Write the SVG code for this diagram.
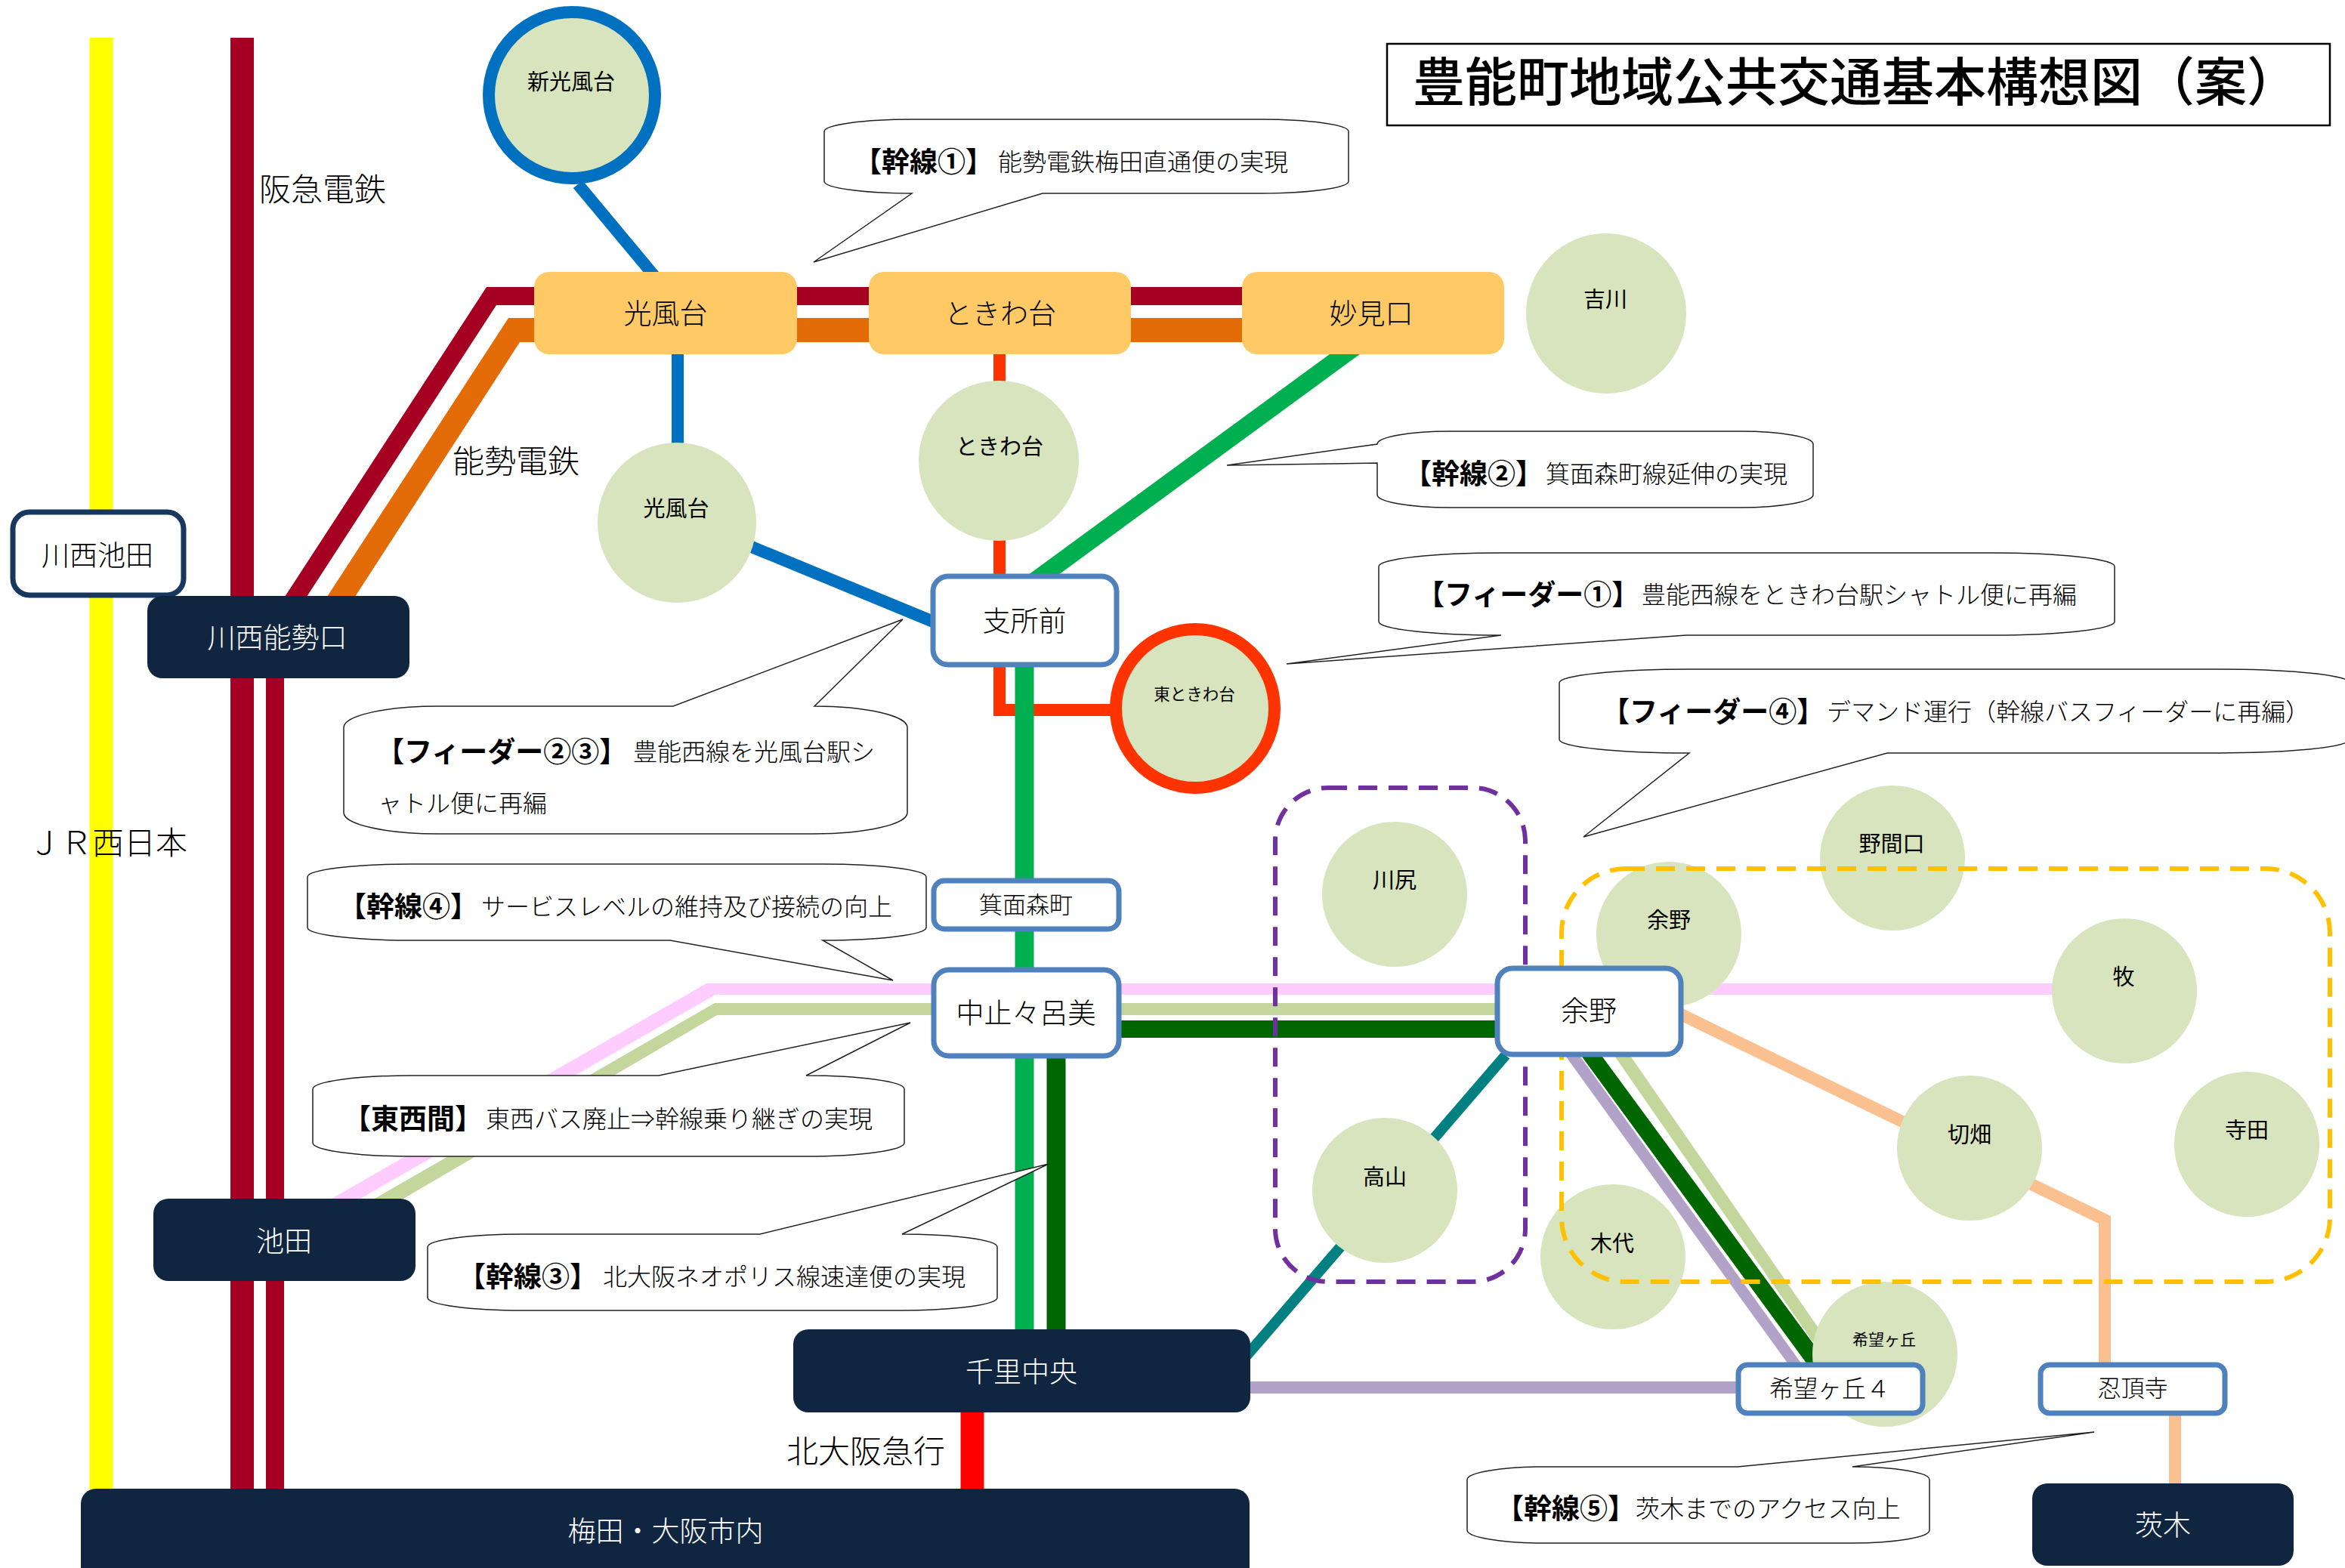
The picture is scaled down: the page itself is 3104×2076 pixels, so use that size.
<svg xmlns="http://www.w3.org/2000/svg" width="3104" height="2076" viewBox="0 0 3104 2076">
<style>
text{font-family:"Noto Sans CJK JP","Noto Sans",sans-serif;fill:#000;font-weight:300;transform:translateY(-2.5px)}
.c{text-anchor:middle;dominant-baseline:central}
.l{font-size:37px}.m{font-size:31px}.e{font-size:29px;font-weight:400}
.lab{font-size:42px}
.st{fill:#D7E4BD}
.or{fill:#FFCA66}
.dk{fill:#10253F}
.bx{fill:#fff;stroke:#4F81BD;stroke-width:7}
.co{fill:#fff;stroke:#222;stroke-width:1.5}
.b{font-size:37px;font-weight:700;dominant-baseline:central}
.r{font-size:32px;font-weight:300;dominant-baseline:central}
.dash{fill:none;stroke-width:6;stroke-dasharray:25 15}
</style>
<rect width="3104" height="2076" fill="#fff"/>
<g id="connectors" fill="none">
<path d="M134 50V1975" stroke="#FFFF00" stroke-width="31"/>
<path d="M320.500 50V1975" stroke="#A50021" stroke-width="31"/>
<path d="M364 789V1975" stroke="#A50021" stroke-width="24"/>
<path d="M644 380H1700V404H657L406 790H377Z" fill="#A50021"/>
<path d="M673 421H1700V453H688L470 790H433Z" fill="#E36C09"/>
<path d="M765 244L870 370" stroke="#0070C0" stroke-width="16"/>
<path d="M897 469V590" stroke="#0070C0" stroke-width="16"/>
<path d="M990 722L1240 825" stroke="#0070C0" stroke-width="16"/>
<path d="M1323 469V940H1480" stroke="#FF3300" stroke-width="16"/>
<path d="M1779 455H1819L1382 775H1342Z" fill="#00B050"/>
<path d="M1356 880V1762" stroke="#00B050" stroke-width="25"/>
<path d="M1398 1395V1762" stroke="#006600" stroke-width="25"/>
<path d="M1287 1868V1973" stroke="#FF0000" stroke-width="31"/>
<path d="M1990 1317V1302H935L439 1587H477L947 1317Z" fill="#FFCCFF"/>
<path d="M2220 1309.500H2730" stroke="#FFCCFF" stroke-width="15"/>
<path d="M1990 1328H946L496 1587H534L949 1344H1990Z" fill="#C3D69B"/>
<path d="M1480 1362.500H1990" stroke="#006600" stroke-width="23"/>
<path d="M1655 1837H2300" stroke="#B3A2C7" stroke-width="16"/>
<path d="M2070 1395H2089L2385 1806H2367Z" fill="#B3A2C7"/>
<path d="M1993 1397L1650 1795" stroke="#008080" stroke-width="14"/>
<path d="M2091 1395H2118L2420 1806H2392Z" fill="#006600"/>
<path d="M2135 1395H2156L2440 1806H2420Z" fill="#C3D69B"/>
<path d="M2225 1343L2786 1615V1806" stroke="#FAC090" stroke-width="16"/>
<path d="M2879 1870V1966" stroke="#FAC090" stroke-width="16"/>
</g>
<g id="n-shinkofudai"><ellipse cx="757" cy="126" rx="110" ry="110" class="st" stroke="#0070C0" stroke-width="16"/><text class="c e" x="756" y="108">新光風台</text></g>
<g id="n-kofudai2"><ellipse cx="896" cy="692" rx="105" ry="106" class="st"/><text class="c e" x="895" y="673">光風台</text></g>
<g id="n-tokiwadai2"><ellipse cx="1322" cy="610" rx="106" ry="106" class="st"/><text class="c e" x="1323" y="591">ときわ台</text></g>
<g id="n-yoshikawa"><ellipse cx="2126" cy="415" rx="106" ry="106" class="st"/><text class="c e" x="2125" y="396">吉川</text></g>
<g id="n-higashitokiwadai"><ellipse cx="1582" cy="938" rx="105" ry="105" class="st" stroke="#FF3300" stroke-width="16"/><text class="c" font-size="21.500" style="font-weight:400" x="1581" y="920">東ときわ台</text></g>
<g id="n-kawajiri"><ellipse cx="1846" cy="1184" rx="96" ry="96" class="st"/><text class="c e" x="1846" y="1165">川尻</text></g>
<g id="n-takayama"><ellipse cx="1833" cy="1576" rx="96" ry="96" class="st"/><text class="c e" x="1833" y="1558">高山</text></g>
<g id="n-yono2"><ellipse cx="2209" cy="1237" rx="96" ry="96" class="st"/><text class="c e" x="2209" y="1218">余野</text></g>
<g id="n-nomaguchi"><ellipse cx="2505" cy="1136" rx="96" ry="96" class="st"/><text class="c e" x="2504" y="1117">野間口</text></g>
<g id="n-maki"><ellipse cx="2812" cy="1312" rx="96" ry="96" class="st"/><text class="c e" x="2811" y="1293">牧</text></g>
<g id="n-kirihata"><ellipse cx="2607" cy="1520" rx="96" ry="96" class="st"/><text class="c e" x="2607" y="1502">切畑</text></g>
<g id="n-terada"><ellipse cx="2974" cy="1515" rx="96" ry="96" class="st"/><text class="c e" x="2974" y="1496">寺田</text></g>
<g id="n-kishiro"><ellipse cx="2135" cy="1664" rx="96" ry="96" class="st"/><text class="c e" x="2134" y="1646">木代</text></g>
<g id="n-kibogaoka2"><ellipse cx="2495" cy="1793" rx="96" ry="96" class="st"/><text class="c" font-size="21" style="font-weight:400" x="2494" y="1774">希望ヶ丘</text></g>
<g id="zone-purple"><rect x="1688" y="1043" width="331" height="654" rx="70" ry="70" class="dash" stroke="#7030A0"/></g>
<g id="zone-yellow"><rect x="2067" y="1150" width="1017" height="547" rx="85" ry="85" class="dash" stroke="#FFC000"/></g>
<g id="n-kawanishiikeda"><rect x="17" y="678" width="226" height="110" rx="22" fill="#fff" stroke="#17375E" stroke-width="7"/><text class="c l" x="129" y="735">川西池田</text></g>
<g id="n-kawanishinose"><rect x="195" y="789" width="347" height="109" rx="20" class="dk"/><text class="c l" x="367" y="844" style="fill:#fff">川西能勢口</text></g>
<g id="n-kofudai"><rect x="707" y="360" width="348" height="109" rx="20" class="or"/><text class="c l" x="881" y="415">光風台</text></g>
<g id="n-tokiwadai"><rect x="1150" y="360" width="347" height="109" rx="20" class="or"/><text class="c l" x="1324" y="415">ときわ台</text></g>
<g id="n-myokenguchi"><rect x="1644" y="360" width="347" height="109" rx="20" class="or"/><text class="c l" x="1815" y="415">妙見口</text></g>
<g id="n-shishomae"><rect x="1235" y="763" width="243" height="117" rx="20" class="bx"/><text class="c l" x="1356" y="822">支所前</text></g>
<g id="n-minohmori"><rect x="1236" y="1166" width="245" height="64" rx="14" class="bx"/><text class="c m" x="1358" y="1198">箕面森町</text></g>
<g id="n-nakatodoromi"><rect x="1236" y="1284" width="245" height="114" rx="20" class="bx"/><text class="c l" x="1358" y="1341">中止々呂美</text></g>
<g id="n-yono"><rect x="1982" y="1282" width="243" height="114" rx="20" class="bx"/><text class="c l" x="2103" y="1338">余野</text></g>
<g id="n-kibogaoka"><rect x="2301" y="1807" width="244" height="64" rx="12" class="bx"/><text class="c" font-size="32" x="2422" y="1838">希望ヶ丘４</text></g>
<g id="n-ninchoji"><rect x="2701" y="1807" width="244" height="64" rx="12" class="bx"/><text class="c m" x="2823" y="1838">忍頂寺</text></g>
<g id="n-ikeda"><rect x="203" y="1587" width="347" height="109" rx="20" class="dk"/><text class="c l" x="376" y="1643" style="fill:#fff">池田</text></g>
<g id="n-senri"><rect x="1050" y="1760" width="605" height="110" rx="20" class="dk"/><text class="c l" x="1352" y="1816" style="fill:#fff">千里中央</text></g>
<g id="n-umeda"><rect x="107" y="1971" width="1547" height="130" rx="20" class="dk"/><text class="c l" x="881" y="2027" style="fill:#fff">梅田・大阪市内</text></g>
<g id="n-ibaraki"><rect x="2690" y="1964" width="346" height="109" rx="20" class="dk"/><text class="c l" x="2863" y="2019" style="fill:#fff">茨木</text></g>
<text class="c lab" x="427" y="250">阪急電鉄</text>
<text class="c lab" x="683" y="610">能勢電鉄</text>
<text class="c lab" x="143" y="1115">ＪＲ西日本</text>
<text class="c lab" x="1146" y="1921">北大阪急行</text>
<g id="title"><rect x="1836" y="58" width="1248" height="108" fill="#fff" stroke="#000" stroke-width="2.500"/><text x="1870" y="136" font-size="69" style="font-weight:500">豊能町地域公共交通基本構想図（案）</text></g>
<g id="callout-k1"><path class="co" d="M1207 158H1669A116 16 0 0 1 1785 174V240A116 16 0 0 1 1669 256H1380L1077 347L1207 256A116 16 0 0 1 1091 240V174A116 16 0 0 1 1207 158Z"/><text y="214"><tspan class="b" x="1130">【幹線①】</tspan><tspan class="r" x="1321">能勢電鉄梅田直通便の実現</tspan></text></g>
<g id="callout-k2"><path class="co" d="M1919 571H2304A96 17 0 0 1 2400 588V655A96 17 0 0 1 2304 672H1919A96 17 0 0 1 1823 655V613L1624 616L1823 588A96 17 0 0 1 1919 571Z"/><text y="627"><tspan class="b" x="1858">【幹線②】</tspan><tspan class="r" x="2046">箕面森町線延伸の実現</tspan></text></g>
<g id="callout-f1"><path class="co" d="M1987 732H2637A162 18 0 0 1 2799 750V823A162 18 0 0 1 2637 841H2232L1703 879L1987 841A162 18 0 0 1 1825 823V750A162 18 0 0 1 1987 732Z"/><text y="787"><tspan class="b" x="1875">【フィーダー①】</tspan><tspan class="r" x="2173">豊能西線をときわ台駅シャトル便に再編</tspan></text></g>
<g id="callout-f4"><path class="co" d="M2238 886H2936A174 18 0 0 1 3110 904V979A174 18 0 0 1 2936 997H2498L2096 1108L2236 997A172 18 0 0 1 2064 979V904A174 18 0 0 1 2238 886Z"/><text y="942"><tspan class="b" x="2120">【フィーダー④】</tspan><tspan class="r" x="2418">デマンド運行（幹線バスフィーダーに再編）</tspan></text></g>
<g id="callout-f23"><path class="co" d="M580 935H891L1195 820L1078 935A124 28 0 0 1 1201 963V1076A124 28 0 0 1 1077 1104H579A124 28 0 0 1 455 1076V963A124 28 0 0 1 580 935Z"/><text y="995"><tspan class="b" x="498">【フィーダー②③】</tspan><tspan class="r" x="838">豊能西線を光風台駅シ</tspan></text><text class="r" x="500" y="1063">ャトル便に再編</text></g>
<g id="callout-k4"><path class="co" d="M543 1144H1089A137 17 0 0 1 1226 1161V1228A137 17 0 0 1 1089 1245L1182 1298L887 1245H543A136 17 0 0 1 407 1228V1161A136 17 0 0 1 543 1144Z"/><text y="1200"><tspan class="b" x="448">【幹線④】</tspan><tspan class="r" x="637">サービスレベルの維持及び接続の向上</tspan></text></g>
<g id="callout-tozai"><path class="co" d="M544 1424H872L1205 1354L1067 1424A130 18 0 0 1 1197 1442V1513A130 18 0 0 1 1067 1531H544A130 18 0 0 1 414 1513V1442A130 18 0 0 1 544 1424Z"/><text y="1481"><tspan class="b" x="454">【東西間】</tspan><tspan class="r" x="643">東西バス廃止⇒幹線乗り継ぎの実現</tspan></text></g>
<g id="callout-k3"><path class="co" d="M692 1634H1006L1388 1541L1194 1634A126 17 0 0 1 1320 1651V1718A126 17 0 0 1 1194 1735H692A126 17 0 0 1 566 1718V1651A126 17 0 0 1 692 1634Z"/><text y="1690"><tspan class="b" x="606">【幹線③】</tspan><tspan class="r" x="798">北大阪ネオポリス線速達便の実現</tspan></text></g>
<g id="callout-k5"><path class="co" d="M2044 1942H2300L2772 1896L2452 1942A102 17 0 0 1 2554 1959V2026A102 17 0 0 1 2452 2043H2044A102 17 0 0 1 1942 2026V1959A102 17 0 0 1 2044 1942Z"/><text y="1997"><tspan class="b" x="1980">【幹線⑤】</tspan><tspan class="r" x="2165">茨木までのアクセス向上</tspan></text></g>
</svg>
